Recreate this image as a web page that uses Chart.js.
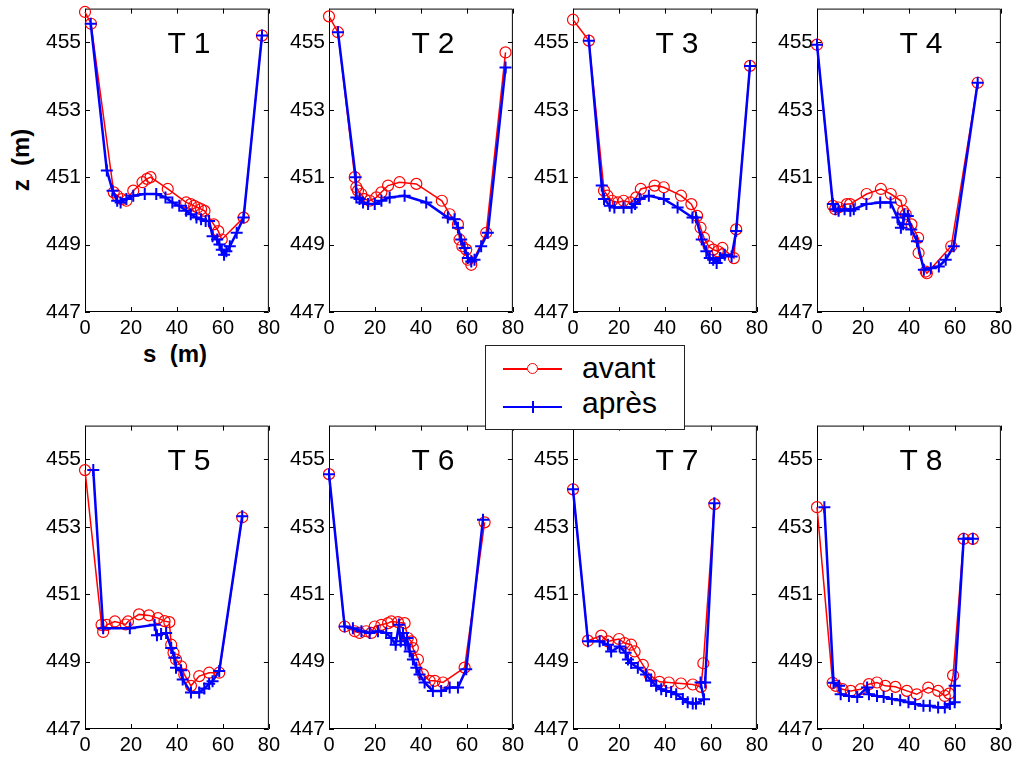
<!DOCTYPE html>
<html>
<head>
<meta charset="utf-8">
<script src="https://cdn.jsdelivr.net/npm/chart.js@4.4.1/dist/chart.umd.min.js"></script>
<style>
  body { margin: 0; background: #fff; width: 1016px; height: 758px; position: relative; overflow: hidden;
         font-family: 'Liberation Sans', Arial, sans-serif; color: #000; }
  canvas { position: absolute; }
  .ttl { position: absolute; font-size: 30px; line-height: 30px; white-space: pre; transform: translateX(-50%); }
  .lab { position: absolute; font-size: 24px; line-height: 24px; font-weight: bold; white-space: pre; }
  #legend { position: absolute; left: 485px; top: 345px; width: 198px; height: 83px; border: 1px solid #222;
            background: #fff; z-index: 5; }
  #legend .txt { position: absolute; left: 96px; font-size: 30px; line-height: 30px; }
</style>
</head>
<body>

<div class="lab" style="left:21px; top:160px; transform: translate(-50%,-50%) rotate(-90deg);">z  (m)</div>
<div class="lab" style="left:175px; top:354px; transform: translate(-50%,-50%);">s  (m)</div>

<div id="legend">
  <div style="position:absolute; left:17px; top:22px; width:59px; height:1.5px; background:#f00;"></div>
  <div style="position:absolute; left:41px; top:17px; width:9px; height:9px; border:1.3px solid #f00; border-radius:50%; background:#fff;"></div>
  <div class="txt" style="top:7px;">avant</div>
  <div style="position:absolute; left:17px; top:60px; width:59px; height:2px; background:#00f;"></div>
  <div style="position:absolute; left:46px; top:55px; width:2px; height:12px; background:#00f;"></div>
  <div class="txt" style="top:42px;">après</div>
</div>

<script>
// axes
const xTicks = [0, 20, 40, 60, 80];
const yTicks = [447, 449, 451, 453, 455];

// T 1
const T1_s_avant = [0, 2.6, 12.5, 14, 16, 18, 21, 25, 27, 28.5, 36, 44, 46, 47.5, 49, 50.5, 52, 56, 58, 59.5, 69, 77];
const T1_z_avant = [455.9, 455.55, 450.55, 450.45, 450.35, 450.3, 450.6, 450.85, 450.95, 451.0, 450.65, 450.25, 450.2, 450.15, 450.1, 450.05, 450.0, 449.6, 449.4, 449.15, 449.8, 455.2];
const T1_s_apres = [2.5, 9.5, 12, 14, 15.5, 18, 21, 26, 31, 35, 38, 41, 44, 46, 48.5, 50.5, 52.5, 54, 55.5, 57.5, 58.5, 59.5, 60.5, 61.5, 63, 66, 69, 77];
const T1_z_apres = [455.55, 451.2, 450.6, 450.3, 450.25, 450.35, 450.45, 450.5, 450.5, 450.4, 450.25, 450.15, 450.0, 449.9, 449.8, 449.75, 449.7, 449.7, 449.25, 449.15, 449.0, 448.85, 448.7, 448.8, 448.95, 449.35, 449.8, 455.2];

// T 2
const T2_s_avant = [0, 3.9, 11.2, 11.9, 12.6, 14, 15.5, 17.7, 20.6, 22.8, 25.7, 30.7, 38, 49.1, 52.5, 56.1, 56.8, 58, 59.7, 60.4, 61.9, 68.4, 76.8];
const T2_z_avant = [455.77, 455.3, 451.0, 450.7, 450.6, 450.5, 450.35, 450.3, 450.4, 450.55, 450.75, 450.85, 450.8, 450.3, 449.9, 449.6, 449.15, 448.95, 448.85, 448.55, 448.4, 449.35, 454.7];
const T2_s_apres = [3.9, 11.6, 11.9, 13.3, 14.8, 17, 19.9, 22.8, 26.4, 32.9, 42.3, 51.7, 54.6, 56.1, 57.5, 59, 60.4, 61.9, 63.3, 66.2, 69.1, 76.8];
const T2_z_apres = [455.3, 451.0, 450.4, 450.35, 450.25, 450.2, 450.2, 450.3, 450.4, 450.45, 450.25, 449.8, 449.75, 449.5, 449.15, 448.9, 448.6, 448.5, 448.55, 448.95, 449.35, 454.25];

// T 3
const T3_s_avant = [0, 6.9, 13.5, 15, 17, 19.5, 22, 25, 27.5, 29.5, 35.5, 39.5, 47, 51.5, 54, 55.5, 57, 59, 61, 63, 65, 70, 71, 77];
const T3_z_avant = [455.67, 455.05, 450.6, 450.45, 450.3, 450.25, 450.3, 450.25, 450.4, 450.65, 450.75, 450.7, 450.45, 450.2, 449.85, 449.5, 449.2, 448.95, 448.85, 448.8, 448.9, 448.6, 449.45, 454.3];
const T3_s_apres = [6.9, 12.5, 13.5, 16, 18, 22, 25.5, 27, 29, 33, 39.5, 45.5, 52, 53.5, 56, 58, 59.5, 61, 62.5, 64, 66, 69, 71, 77];
const T3_z_apres = [455.05, 450.75, 450.35, 450.15, 450.1, 450.1, 450.1, 450.2, 450.35, 450.45, 450.35, 450.1, 449.8, 449.8, 449.15, 448.8, 448.6, 448.55, 448.45, 448.6, 448.7, 448.65, 449.4, 454.3];

// T 4
const T4_s_avant = [0, 6.9, 7.9, 9.4, 13, 14.4, 21.6, 27.8, 32.1, 36.5, 37.5, 38.6, 41.1, 44, 44.2, 47.3, 47.8, 58.4, 69.9];
const T4_z_avant = [454.93, 450.15, 450.05, 450.1, 450.2, 450.2, 450.5, 450.65, 450.5, 450.3, 450.0, 449.9, 449.6, 449.2, 448.75, 448.2, 448.15, 448.95, 453.8];
const T4_s_apres = [0, 6.9, 8, 9.4, 12, 14.5, 16, 21.5, 27.5, 32, 35, 36.5, 37.5, 38, 39.5, 41, 43.5, 46.5, 49.5, 53, 56, 59.5, 69.9];
const T4_z_apres = [454.93, 450.2, 450.05, 450.0, 450.05, 450.0, 450.05, 450.2, 450.25, 450.25, 449.8, 449.5, 449.6, 449.9, 449.85, 449.45, 449.1, 448.25, 448.3, 448.35, 448.55, 448.95, 453.8];

// T 5
const T5_s_avant = [0, 7.2, 7.9, 9.4, 13, 17.7, 18.7, 23.5, 27.8, 31.7, 34.6, 36.7, 37.5, 38.5, 39.6, 41.8, 43.2, 46.1, 49.7, 54, 58.4, 68.4];
const T5_z_avant = [454.68, 450.09, 449.88, 450.09, 450.19, 450.1, 450.19, 450.4, 450.37, 450.29, 450.2, 450.17, 449.5, 449.26, 449.06, 448.86, 448.62, 448.28, 448.57, 448.67, 448.67, 453.28];
const T5_s_apres = [3.6, 7.9, 19.5, 30.3, 31.3, 33.1, 35.3, 37.5, 38.9, 39.6, 41.8, 42.5, 46.1, 49.7, 51.9, 54, 55.5, 58.4, 68.4];
const T5_z_apres = [454.68, 449.99, 449.99, 450.09, 449.78, 449.82, 449.85, 449.4, 449.11, 448.82, 448.74, 448.47, 448.08, 448.08, 448.2, 448.34, 448.42, 448.72, 453.31];

// T 6
const T6_s_avant = [0, 6.8, 11.2, 13.3, 16.2, 18.4, 19.9, 22.8, 25.7, 27.1, 30, 32.9, 34.3, 35.8, 36.5, 38.7, 40.9, 43.8, 46, 49.6, 59, 67.7];
const T6_z_avant = [454.56, 450.04, 449.9, 449.85, 449.9, 449.85, 450.04, 450.09, 450.14, 450.19, 450.17, 450.14, 449.7, 449.6, 449.4, 449.06, 448.62, 448.43, 448.43, 448.38, 448.82, 453.13];
const T6_s_apres = [0, 6.8, 10.4, 14.1, 17.7, 21.3, 24.9, 27.1, 29, 30.4, 31.2, 32.2, 33.3, 33.9, 35.1, 36.5, 38, 39.4, 41.6, 45.2, 48.8, 52.5, 56.1, 59.7, 67];
const T6_z_apres = [454.56, 450.04, 449.99, 449.9, 449.85, 449.9, 449.85, 449.7, 449.5, 450.09, 449.6, 449.85, 449.5, 449.7, 449.3, 449.06, 448.82, 448.62, 448.38, 448.13, 448.13, 448.23, 448.23, 448.77, 453.21];

// T 7
const T7_s_avant = [0, 6.5, 12.3, 15.2, 20, 22.4, 25.3, 26.8, 30.4, 33.3, 37.6, 41.7, 47, 52.1, 55.7, 56.7, 61.5];
const T7_z_avant = [454.11, 449.62, 449.77, 449.6, 449.67, 449.55, 449.5, 449.3, 448.9, 448.6, 448.4, 448.38, 448.35, 448.32, 448.25, 448.95, 453.67];
const T7_s_apres = [0, 6.5, 11.6, 15.2, 16.6, 20.3, 22.9, 23.9, 25.3, 28.2, 31.8, 34, 36.2, 38.4, 40.5, 42.7, 44.9, 47.8, 49.9, 52.1, 53.5, 57, 55.5, 57.5, 61.5];
const T7_z_apres = [454.11, 449.6, 449.6, 449.5, 449.3, 449.45, 449.26, 449.06, 448.96, 448.82, 448.62, 448.43, 448.28, 448.18, 448.13, 448.1, 448.03, 447.89, 447.79, 447.76, 447.76, 447.88, 448.38, 448.38, 453.7];

// T 8
const T8_s_avant = [0, 6.8, 8.2, 11.1, 14.7, 19, 22.6, 26.1, 29.7, 34.1, 39.1, 43.4, 48.4, 52.7, 55.6, 57.5, 59.2, 63.8, 67.8];
const T8_z_avant = [453.58, 448.37, 448.28, 448.18, 448.13, 448.18, 448.33, 448.38, 448.28, 448.25, 448.13, 448.03, 448.23, 448.13, 447.98, 448.05, 448.59, 452.64, 452.64];
const T8_s_apres = [3.2, 7.2, 9.6, 10.3, 13.9, 17.5, 21.8, 22.6, 26.1, 29, 32.6, 36.2, 39.8, 42.7, 46.3, 49.1, 52.7, 55.6, 57.8, 59.9, 59.9, 63.8, 67.8];
const T8_z_apres = [453.58, 448.37, 448.28, 448.03, 447.98, 447.95, 448.23, 448.03, 447.98, 447.95, 447.89, 447.85, 447.79, 447.74, 447.69, 447.69, 447.64, 447.64, 447.74, 447.79, 448.28, 452.64, 452.64];

const transects = [
  ['T 1', T1_s_avant, T1_z_avant, T1_s_apres, T1_z_apres],
  ['T 2', T2_s_avant, T2_z_avant, T2_s_apres, T2_z_apres],
  ['T 3', T3_s_avant, T3_z_avant, T3_s_apres, T3_z_apres],
  ['T 4', T4_s_avant, T4_z_avant, T4_s_apres, T4_z_apres],
  ['T 5', T5_s_avant, T5_z_avant, T5_s_apres, T5_z_apres],
  ['T 6', T6_s_avant, T6_z_avant, T6_s_apres, T6_z_apres],
  ['T 7', T7_s_avant, T7_z_avant, T7_s_apres, T7_z_apres],
  ['T 8', T8_s_avant, T8_z_avant, T8_s_apres, T8_z_apres]
];

// geometrie des panneaux (zone de tracé)
const colLeft = [85, 329, 573, 817];
const rowTop = [7, 424];
const plotW = 184, plotH = 305;
const padL = 50, padT = 15, padR = 15, padB = 35;

const pts = (s, z) => s.map((v, i) => ({ x: v, y: z[i] }));

// cadre + petites graduations vers l'intérieur (style matlab)
const boxTicks = {
  id: 'boxTicks',
  beforeDatasetsDraw(chart) {
    const { ctx, chartArea: a, scales: { x, y } } = chart;
    ctx.save();
    ctx.strokeStyle = '#000';
    ctx.lineWidth = 1;
    ctx.beginPath();
    ctx.rect(a.left + 0.5, a.top + 0.5, a.right - a.left - 1, a.bottom - a.top - 1);
    xTicks.forEach(v => {
      const px = Math.round(x.getPixelForValue(v)) + 0.5;
      ctx.moveTo(px, a.bottom); ctx.lineTo(px, a.bottom - 5);
      ctx.moveTo(px, a.top); ctx.lineTo(px, a.top + 5);
    });
    yTicks.forEach(v => {
      const py = Math.round(y.getPixelForValue(v)) + 0.5;
      ctx.moveTo(a.left, py); ctx.lineTo(a.left + 5, py);
      ctx.moveTo(a.right, py); ctx.lineTo(a.right - 5, py);
    });
    ctx.stroke();
    ctx.restore();
  }
};

const xFont = { family: "'Liberation Sans', Arial, sans-serif", size: 20 };
const yFont = { family: "'Liberation Sans', Arial, sans-serif", size: 21 };

transects.forEach((t, i) => {
  const [name, sA, zA, sP, zP] = t;
  const L = colLeft[i % 4], T = rowTop[Math.floor(i / 4)];

  const cv = document.createElement('canvas');
  cv.width = plotW + padL + padR;
  cv.height = plotH + padT + padB;
  cv.style.left = (L - padL) + 'px';
  cv.style.top = (T - padT) + 'px';
  document.body.appendChild(cv);

  const ttl = document.createElement('div');
  ttl.className = 'ttl';
  ttl.textContent = name;
  ttl.style.left = (L + 104) + 'px';
  ttl.style.top = (T + 21) + 'px';
  document.body.appendChild(ttl);

  new Chart(cv, {
    type: 'scatter',
    data: {
      datasets: [{
        label: 'avant',
        data: pts(sA, zA),
        showLine: true,
        borderColor: '#ff0000',
        borderWidth: 1.5,
        pointStyle: 'circle',
        pointRadius: 5.5,
        pointBorderWidth: 1.2,
        pointBorderColor: '#ff0000',
        pointBackgroundColor: 'rgba(0,0,0,0)',
        clip: false,
        order: 2
      }, {
        label: 'après',
        data: pts(sP, zP),
        showLine: true,
        borderColor: '#0000ff',
        borderWidth: 2.5,
        pointStyle: 'cross',
        pointRadius: 6,
        pointBorderWidth: 2,
        pointBorderColor: '#0000ff',
        clip: false,
        order: 1
      }]
    },
    options: {
      responsive: false,
      animation: false,
      events: [],
      layout: { padding: { top: padT, right: padR, left: 0, bottom: 0 } },
      plugins: { legend: { display: false }, tooltip: { enabled: false } },
      scales: {
        x: {
          type: 'linear', min: 0, max: 80,
          afterBuildTicks: s => { s.ticks = xTicks.map(v => ({ value: v })); },
          afterFit: s => { s.height = padB; },
          grid: { display: false, drawTicks: false },
          border: { display: false },
          ticks: { color: '#000', font: xFont, padding: 4, maxRotation: 0, autoSkip: false }
        },
        y: {
          type: 'linear', min: 447, max: 456,
          afterBuildTicks: s => { s.ticks = yTicks.map(v => ({ value: v })); },
          afterFit: s => { s.width = padL; },
          grid: { display: false, drawTicks: false },
          border: { display: false },
          ticks: { color: '#000', font: yFont, padding: 4, autoSkip: false }
        }
      }
    },
    plugins: [boxTicks]
  });
});
</script>
</body>
</html>
